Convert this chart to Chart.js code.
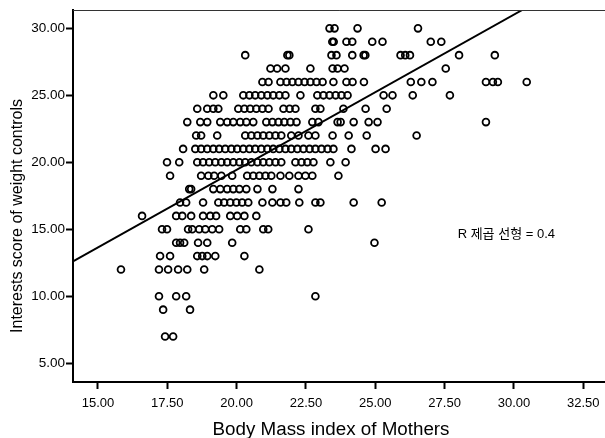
<!DOCTYPE html>
<html>
<head>
<meta charset="utf-8">
<script src="https://cdn.jsdelivr.net/npm/chart.js@4"></script>
<style>
  html, body { margin: 0; padding: 0; background: #fff; overflow: hidden; }
  canvas { display: block; }
</style>
</head>
<body>
<canvas id="myChart" width="611" height="438"></canvas>
<script>
const scoreLevels = [30, 29, 28, 27, 26, 25, 24, 23, 22, 21, 20, 19, 18, 17, 16, 15, 14, 13, 12, 10, 9, 7];
const bmiByLevel = [
  [23.35, 23.53, 24.36, 26.54],
  [23.45, 23.50, 23.96, 24.17, 24.89, 25.26, 27.00, 27.38],
  [20.31, 21.83, 21.90, 23.42, 23.60, 24.17, 24.58, 24.64, 25.91, 26.08, 26.25, 28.02, 29.31],
  [21.22, 21.46, 21.76, 22.66, 23.46, 23.64, 23.89, 27.54],
  [20.93, 21.15, 21.58, 21.80, 22.01, 22.23, 22.45, 22.66, 22.88, 23.10, 23.49, 23.96, 24.18, 24.59, 26.28, 26.66, 27.06, 28.99, 29.24, 29.42, 30.46],
  [19.16, 19.52, 20.24, 20.46, 20.67, 20.89, 21.11, 21.32, 21.54, 21.76, 22.30, 22.91, 23.13, 23.35, 23.57, 23.78, 24.00, 25.30, 25.62, 26.35, 27.69],
  [18.58, 18.94, 19.16, 19.34, 20.06, 20.28, 20.49, 20.71, 20.93, 21.15, 21.69, 21.91, 22.12, 22.84, 23.02, 23.85, 24.65, 25.41],
  [18.22, 18.69, 18.94, 19.41, 19.66, 19.88, 20.13, 20.35, 20.60, 21.07, 21.29, 21.51, 21.72, 21.94, 22.16, 22.73, 22.95, 23.64, 23.75, 24.22, 24.76, 25.08, 28.99],
  [18.54, 18.72, 19.30, 20.31, 20.53, 20.75, 20.96, 21.18, 21.40, 21.61, 21.97, 22.23, 22.59, 22.84, 23.46, 24.04, 24.69, 26.49],
  [18.07, 18.51, 18.72, 18.94, 19.16, 19.37, 19.59, 19.81, 20.02, 20.24, 20.46, 20.67, 20.89, 21.11, 21.32, 21.54, 21.76, 21.97, 22.19, 22.41, 22.63, 22.84, 23.06, 23.28, 23.49, 24.14, 25.01, 25.37],
  [17.49, 17.93, 18.58, 18.79, 19.01, 19.23, 19.45, 19.66, 19.88, 20.10, 20.31, 20.53, 20.75, 20.96, 21.18, 21.40, 21.61, 22.12, 22.34, 22.55, 22.77, 23.38, 23.93],
  [17.60, 18.72, 18.98, 19.19, 19.45, 19.84, 20.38, 20.60, 20.82, 21.04, 21.25, 21.58, 21.90, 22.23, 22.48, 22.73, 23.67],
  [18.29, 18.36, 19.16, 19.41, 19.66, 19.88, 20.10, 20.35, 20.75, 21.29, 22.23],
  [17.96, 18.18, 18.79, 19.34, 19.55, 19.77, 19.99, 20.20, 20.42, 20.93, 21.29, 21.58, 21.79, 22.26, 22.84, 23.02, 24.22, 25.23],
  [16.59, 17.82, 18.04, 18.36, 18.79, 19.05, 19.26, 19.77, 20.02, 20.28, 20.71],
  [17.31, 17.49, 18.25, 18.40, 18.65, 18.87, 19.12, 19.37, 20.13, 20.35, 20.96, 21.14, 22.59],
  [17.82, 17.96, 18.11, 18.61, 18.94, 19.84, 24.97],
  [17.24, 17.60, 18.58, 18.76, 18.94, 19.23, 20.28],
  [15.83, 17.20, 17.53, 17.89, 18.22, 18.83, 20.82],
  [17.20, 17.82, 18.18, 22.84],
  [17.35, 18.32],
  [17.42, 17.71]
];

// fit line end points
const fitX = [14.10, 30.30];
const fitY = [12.60, 31.37];

const xTicks = [15, 17.5, 20, 22.5, 25, 27.5, 30, 32.5];
const yTicks = [5, 10, 15, 20, 25, 30];

const xTitle = 'Body Mass index of Mothers';
const yTitle = 'Interests score of weight controls';
const fitLabel = 'R 제곱 선형 = 0.4';

const points = [];
scoreLevels.forEach((lv, i) => {
  bmiByLevel[i].forEach(b => points.push({ x: b, y: lv }));
});

const fontFam = '"Liberation Sans", Arial, "Noto Sans CJK KR", sans-serif';

const textPlugin = {
  id: 'texts',
  afterDraw(chart) {
    const c = chart.ctx;
    const a = chart.chartArea;
    c.save();
    // thin top frame
    c.strokeStyle = '#333';
    c.lineWidth = 1;
    c.beginPath();
    c.moveTo(a.left, a.top + 0.5);
    c.lineTo(a.right, a.top + 0.5);
    c.stroke();

    c.fillStyle = '#000';
    c.font = '18.8px ' + fontFam;
    c.textAlign = 'center';
    c.textBaseline = 'alphabetic';
    c.fillText(xTitle, 331, 435);

    c.font = '16px ' + fontFam;
    c.textBaseline = 'middle';
    c.translate(18, 216);
    c.rotate(-Math.PI / 2);
    c.fillText(yTitle, 0, 0);
    c.restore();

    // R square note, placed in data coordinates
    c.save();
    c.fillStyle = '#000';
    c.font = '13px ' + fontFam;
    c.textAlign = 'left';
    c.textBaseline = 'middle';
    c.fillText(fitLabel, chart.scales.x.getPixelForValue(27.97), chart.scales.y.getPixelForValue(14.65));
    c.restore();
  }
};

const ctx = document.getElementById('myChart').getContext('2d');
new Chart(ctx, {
  type: 'scatter',
  data: {
    datasets: [
      {
        data: fitX.map((x, i) => ({ x: x, y: fitY[i] })),
        showLine: true,
        borderColor: '#000',
        borderWidth: 2,
        pointRadius: 0
      },
      {
        data: points,
        pointRadius: 3.4,
        pointBorderWidth: 1.8,
        borderColor: '#000',
        backgroundColor: 'rgba(0,0,0,0)'
      }
    ]
  },
  options: {
    responsive: false,
    devicePixelRatio: 1,
    animation: false,
    layout: { padding: { top: 10, right: 1, left: 0, bottom: 0 } },
    plugins: { legend: { display: false }, tooltip: { enabled: false } },
    scales: {
      x: {
        type: 'linear',
        min: 14.10,
        max: 33.29,
        afterFit: s => { s.height = 56; s.paddingLeft = 0; s.paddingRight = 0; },
        afterBuildTicks: s => { s.ticks = xTicks.map(v => ({ value: v })); },
        border: { display: true, color: '#000', width: 2 },
        grid: { drawOnChartArea: false, drawTicks: true, tickLength: 7, tickWidth: 2, tickColor: '#000' },
        ticks: {
          padding: 7,
          color: '#000',
          font: { family: fontFam, size: 13 },
          callback: v => Number(v).toFixed(2)
        }
      },
      y: {
        type: 'linear',
        min: 3.6,
        max: 31.37,
        afterFit: s => { s.width = 73; s.paddingTop = 0; s.paddingBottom = 0; },
        afterBuildTicks: s => { s.ticks = yTicks.map(v => ({ value: v })); },
        border: { display: true, color: '#000', width: 2 },
        grid: { drawOnChartArea: false, drawTicks: true, tickLength: 7, tickWidth: 2, tickColor: '#000' },
        ticks: {
          padding: 1,
          color: '#000',
          font: { family: fontFam, size: 13.5 },
          callback: v => Number(v).toFixed(2)
        }
      }
    }
  },
  plugins: [textPlugin]
});
</script>
</body>
</html>
